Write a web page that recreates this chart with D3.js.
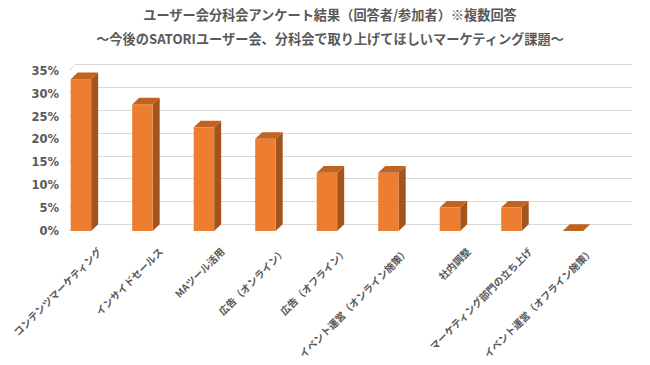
<!DOCTYPE html>
<html>
<head>
<meta charset="utf-8">
<script src="https://cdn.jsdelivr.net/npm/d3@7"></script>
<style>
  html, body { margin: 0; padding: 0; background: #fff; }
  svg { display: block; }
</style>
</head>
<body>
<svg id="chart" width="650" height="365"></svg>
<script>
const titleLines = [
  "ユーザー会分科会アンケート結果（回答者/参加者）※複数回答",
  "～今後のSATORIユーザー会、分科会で取り上げてほしいマーケティング課題～"
];
const categories = [
  "コンテンツマーケティング",
  "インサイドセールス",
  "MAツール活用",
  "広告（オンライン）",
  "広告（オフライン）",
  "イベント運営（オンライン施策）",
  "社内調整",
  "マーケティング部門の立ち上げ",
  "イベント運営（オフライン施策）"
];
const values = [33.1, 27.6, 22.6, 20.1, 12.7, 12.7, 5.1, 5.1, 0];
const yTicks = [0, 5, 10, 15, 20, 25, 30, 35];

const svg = d3.select("#chart");
const grey = "#595959";
const depthX = 7, depthY = 6.7;

// scales (front plane)
const x = d3.scaleBand().domain(categories).range([50.2, 603.7])
  .paddingInner(0.667).paddingOuter(0.333);
const y = d3.scaleLinear().domain([0, 35]).range([231, 70.5]);

const plotLeft = 69, plotRightBack = 632;

// title
svg.append("g").selectAll("text").data(titleLines).join("text")
  .attr("x", 330).attr("y", (d, i) => i === 0 ? 20 : 44)
  .attr("text-anchor", "middle")
  .attr("font-family", "'Noto Sans CJK JP', sans-serif")
  .attr("font-weight", "bold")
  .attr("font-size", "13.2px")
  .attr("fill", grey)
  .text(d => d);

// gridlines on back wall with small side-wall diagonal
const grid = svg.append("g").attr("stroke", "#D9D9D9").attr("stroke-width", 1).attr("fill", "none");
grid.selectAll("line.h").data(yTicks).join("line").attr("class", "h")
  .attr("x1", plotLeft + depthX).attr("x2", plotRightBack)
  .attr("y1", d => Math.round(y(d) - depthY) + 0.5)
  .attr("y2", d => Math.round(y(d) - depthY) + 0.5);
grid.selectAll("line.d").data(yTicks).join("line").attr("class", "d")
  .attr("x1", plotLeft).attr("x2", plotLeft + depthX)
  .attr("y1", d => y(d)).attr("y2", d => y(d) - depthY);

// y axis
const yAxis = svg.append("g").attr("transform", "translate(59,0)")
  .call(d3.axisLeft(y).tickValues(yTicks).tickFormat(d => d + "%").tickSize(0).tickPadding(0));
yAxis.select(".domain").remove();
yAxis.selectAll("text")
  .attr("font-family", "'DejaVu Sans', sans-serif")
  .attr("font-weight", "bold")
  .attr("font-size", "11.5px")
  .attr("fill", grey);

// bars (3D)
const bw = x.bandwidth();
const bars = svg.append("g").selectAll("g").data(values).join("g");
bars.each(function (v, i) {
  const g = d3.select(this);
  const x0 = x(categories[i]);
  const yt = y(v), yb = y(0);
  if (v > 0) {
    g.append("polygon")
      .attr("points", [[x0 + bw, yt], [x0 + bw + depthX, yt - depthY], [x0 + bw + depthX, yb - depthY], [x0 + bw, yb]].join(" "))
      .attr("fill", "#A3531C");
    g.append("rect")
      .attr("x", x0).attr("y", yt).attr("width", bw).attr("height", yb - yt)
      .attr("fill", "#ED7D31");
  }
  g.append("polygon")
    .attr("points", [[x0, yt], [x0 + depthX, yt - depthY], [x0 + bw + depthX, yt - depthY], [x0 + bw, yt]].join(" "))
    .attr("fill", "#C2621F");
});

// x labels
svg.append("g").selectAll("text").data(categories).join("text")
  .attr("transform", d => `translate(${x(d) + bw / 2 + 19},${250}) rotate(-45)`)
  .attr("text-anchor", "end")
  .attr("dy", "0.35em")
  .attr("font-family", "'Noto Sans CJK JP', sans-serif")
  .attr("font-weight", "bold")
  .attr("font-size", "10px")
  .attr("fill", grey)
  .text(d => d);
</script>
</body>
</html>
